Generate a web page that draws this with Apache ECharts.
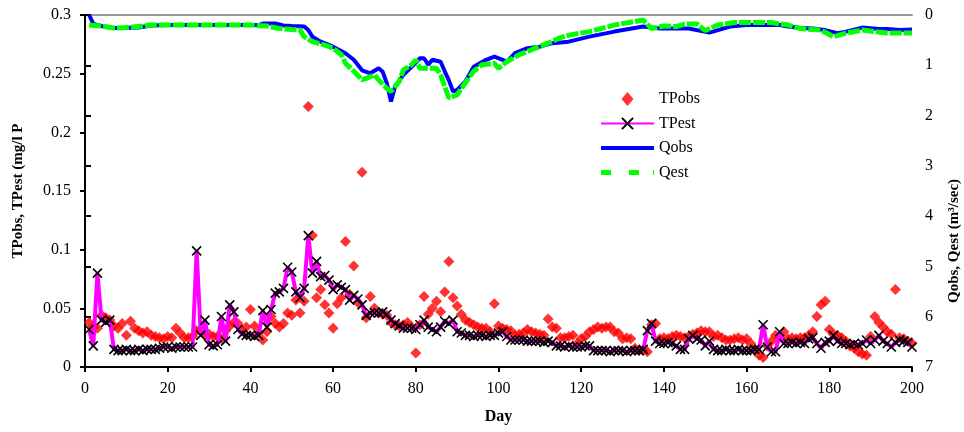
<!DOCTYPE html>
<html>
<head>
<meta charset="utf-8">
<script src="https://cdn.jsdelivr.net/npm/echarts@6/dist/echarts.min.js"></script>
<style>
  html, body { margin: 0; padding: 0; background: #fff; }
  #chart { width: 964px; height: 432px; }
</style>
</head>
<body>
<div id="chart"></div>
<script>
// x: day number, left axis TP (mg/l P), right axis Q (m3/sec, inverted)
const xTicks = [0, 200, 20]
const tpTicks = [0, 0.3, 0.05]
const qTicks = [0, 7, 1]

// TPest, one value per day from day 1
const tpEst = [
  0.032, 0.018, 0.080, 0.040, 0.038, 0.040, 0.015, 0.014, 0.014, 0.015,
  0.014, 0.014, 0.015, 0.014, 0.015, 0.015, 0.015, 0.016, 0.017, 0.017,
  0.016, 0.017, 0.017, 0.017, 0.017, 0.017, 0.099, 0.027, 0.040, 0.019,
  0.018, 0.019, 0.043, 0.022, 0.053, 0.047, 0.032, 0.028, 0.027, 0.027,
  0.026, 0.027, 0.048, 0.034, 0.049, 0.063, 0.064, 0.067, 0.085, 0.081,
  0.064, 0.059, 0.067, 0.112, 0.080, 0.090, 0.077, 0.078, 0.074, 0.066,
  0.070, 0.068, 0.066, 0.057, 0.061, 0.058, 0.053, 0.044, 0.046, 0.046,
  0.046, 0.047, 0.045, 0.040, 0.037, 0.035, 0.033, 0.033, 0.033, 0.032,
  0.036, 0.040, 0.034, 0.032, 0.030, 0.034, 0.039, 0.037, 0.040, 0.030,
  0.029, 0.027, 0.027, 0.026, 0.027, 0.027, 0.026, 0.027, 0.027, 0.029,
  0.030, 0.026, 0.023, 0.023, 0.023, 0.023, 0.022, 0.022, 0.022, 0.022,
  0.021, 0.022, 0.021, 0.018, 0.018, 0.017, 0.018, 0.017, 0.017, 0.017,
  0.018, 0.018, 0.014, 0.014, 0.014, 0.014, 0.013, 0.014, 0.014, 0.014,
  0.013, 0.014, 0.014, 0.014, 0.015, 0.031, 0.037, 0.022, 0.020, 0.020,
  0.021, 0.020, 0.018, 0.015, 0.015, 0.024, 0.027, 0.024, 0.023, 0.018,
  0.022, 0.015, 0.014, 0.014, 0.015, 0.014, 0.014, 0.015, 0.014, 0.014,
  0.014, 0.015, 0.015, 0.036, 0.017, 0.013, 0.013, 0.030, 0.020, 0.020,
  0.021, 0.020, 0.021, 0.020, 0.024, 0.025, 0.020, 0.016, 0.021, 0.022,
  0.027, 0.022, 0.020, 0.020, 0.019, 0.020, 0.019, 0.020, 0.023, 0.020,
  0.023, 0.027, 0.022, 0.020, 0.017, 0.021, 0.023, 0.022, 0.021, 0.017
]

// TPobs, one value per day from day 1
const tpObs = [
  0.038, 0.034, 0.033, 0.044, 0.042, 0.040, 0.035, 0.033, 0.037, 0.027,
  0.039, 0.033, 0.031, 0.029, 0.030, 0.027, 0.026, 0.025, 0.024, 0.026,
  0.025, 0.033, 0.029, 0.025, 0.025, 0.026, 0.031, 0.032, 0.027, 0.028,
  0.026, 0.026, 0.024, 0.031, 0.035, 0.038, 0.037, 0.031, 0.034, 0.049,
  0.035, 0.029, 0.023, 0.030, 0.043, 0.037, 0.034, 0.037, 0.046, 0.044,
  0.057, 0.046, 0.056, 0.222, 0.112, 0.059, 0.066, 0.053, 0.046, 0.033,
  0.054, 0.059, 0.107, 0.062, 0.086, 0.055, 0.166, 0.042, 0.060, 0.050,
  0.046, 0.045, 0.044, 0.038, 0.036, 0.035, 0.036, 0.038, 0.034, 0.012,
  0.036, 0.060, 0.045, 0.050, 0.056, 0.047, 0.064, 0.090, 0.059, 0.052,
  0.045, 0.040, 0.038, 0.036, 0.034, 0.033, 0.033, 0.030, 0.054, 0.035,
  0.033, 0.032, 0.031, 0.027, 0.028, 0.029, 0.032, 0.030, 0.029, 0.028,
  0.027, 0.041, 0.034, 0.033, 0.025, 0.025, 0.026, 0.027, 0.020, 0.024,
  0.026, 0.030, 0.032, 0.034, 0.033, 0.034, 0.034, 0.030, 0.029, 0.024,
  0.025, 0.024, 0.016, 0.014, 0.014, 0.013, 0.036, 0.037, 0.024, 0.025,
  0.024, 0.026, 0.027, 0.026, 0.025, 0.026, 0.028, 0.029, 0.031, 0.030,
  0.030, 0.026, 0.027, 0.025, 0.023, 0.023, 0.024, 0.025, 0.023, 0.024,
  0.020, 0.015, 0.010, 0.008, 0.018, 0.022, 0.027, 0.025, 0.030, 0.024,
  0.025, 0.024, 0.025, 0.025, 0.027, 0.030, 0.043, 0.053, 0.056, 0.032,
  0.028, 0.027, 0.025, 0.022, 0.018, 0.016, 0.013, 0.011, 0.010, 0.026,
  0.043, 0.038, 0.034, 0.030, 0.028, 0.066, 0.025, 0.024, 0.022, 0.020
]

// Qobs readings [day, m3/sec]
const qObs = [
  [1, 0.0], [2, 0.17], [3, 0.2], [5, 0.24], [7, 0.26], [10, 0.26], [13, 0.25],
  [16, 0.21], [20, 0.2], [30, 0.2], [42, 0.2], [43, 0.17], [46, 0.17], [48, 0.21],
  [50, 0.22], [53, 0.23], [54, 0.3], [55, 0.43], [57, 0.53], [60, 0.63], [63, 0.76],
  [65, 0.89], [67, 1.1], [69, 1.16], [71, 1.06], [72, 1.13], [73, 1.36], [74, 1.72],
  [75, 1.42], [77, 1.19], [79, 1.03], [81, 0.86], [82, 0.86], [83, 0.99], [84, 0.89],
  [86, 0.93], [87, 1.12], [88, 1.3], [89, 1.52], [90, 1.49], [92, 1.32], [94, 1.03],
  [97, 0.89], [99, 0.83], [101, 0.89], [102, 0.93], [104, 0.76], [107, 0.66],
  [110, 0.63], [113, 0.56], [117, 0.53], [122, 0.43], [128, 0.33], [135, 0.23],
  [139, 0.27], [146, 0.27], [151, 0.35], [156, 0.23], [160, 0.2], [168, 0.2],
  [170, 0.23], [173, 0.26], [176, 0.27], [179, 0.3], [182, 0.36], [184, 0.33],
  [188, 0.25], [192, 0.28], [194, 0.28], [197, 0.3], [200, 0.29]
]

// Qest readings [day, m3/sec]
const qEst = [
  [1, 0.2], [4, 0.22], [7, 0.26], [10, 0.25], [14, 0.22], [16, 0.2], [40, 0.2],
  [44, 0.22], [47, 0.27], [50, 0.29], [52, 0.3], [53, 0.43], [55, 0.53], [58, 0.6],
  [60, 0.66], [62, 0.79], [63, 0.96], [65, 1.12], [67, 1.29], [68, 1.26], [70, 1.19],
  [71, 1.29], [73, 1.46], [74, 1.52], [76, 1.32], [77, 1.09], [79, 0.99], [80, 0.89],
  [81, 1.06], [85, 1.06], [86, 1.19], [87, 1.42], [88, 1.65], [90, 1.59], [91, 1.46],
  [94, 1.12], [96, 0.99], [99, 0.96], [100, 1.06], [102, 0.93], [105, 0.79],
  [108, 0.69], [112, 0.56], [115, 0.45], [117, 0.4], [122, 0.33], [128, 0.2],
  [135, 0.1], [137, 0.27], [140, 0.22], [143, 0.23], [145, 0.18], [148, 0.18],
  [150, 0.31], [153, 0.2], [157, 0.15], [166, 0.15], [170, 0.2], [173, 0.27],
  [178, 0.3], [181, 0.43], [184, 0.36], [188, 0.3], [191, 0.33], [194, 0.36], [200, 0.36]
]

const font = 'Liberation Serif'
const cross = 'path://M0,0L10,10M10,0L0,10'

const chart = echarts.init(document.getElementById('chart'), null, { renderer: 'canvas' })
chart.setOption({
  animation: false,
  backgroundColor: '#fff',
  textStyle: { fontFamily: font },
  grid: { left: 85, right: 52, top: 15, bottom: 65, outerBoundsMode: 'none' },
  legend: {
    orient: 'vertical',
    left: 595,
    top: 86,
    itemWidth: 53,
    itemHeight: 14,
    itemGap: 8.5,
    textStyle: { fontFamily: font, fontSize: 16, color: '#000' },
    data: [
      { name: 'TPobs', icon: 'path://M6,0L12,7L6,14L0,7Z' },
      'TPest',
      { name: 'Qobs', icon: 'path://M0,0H53V4H0Z' },
      { name: 'Qest', icon: 'path://M0,0H10V5H0Z M28,0H38V5H28Z M52,0H53V5H52Z' },
    ],
  },
  xAxis: [
    {
      type: 'value',
      min: xTicks[0],
      max: xTicks[1],
      interval: xTicks[2],
      name: 'Day',
      nameLocation: 'middle',
      nameGap: 42,
      nameTextStyle: { fontFamily: font, fontSize: 16, fontWeight: 'bold', color: '#000' },
      axisLine: { lineStyle: { color: '#000', width: 2 } },
      axisTick: { length: 5, lineStyle: { color: '#000', width: 2 } },
      axisLabel: { color: '#000', fontSize: 16, margin: 14, fontFamily: font },
      splitLine: { show: false },
    },
    {
      type: 'value',
      position: 'top',
      min: xTicks[0],
      max: xTicks[1],
      axisLine: { onZero: false, lineStyle: { color: '#999', width: 2 } },
      axisTick: { show: false },
      axisLabel: { show: false },
      splitLine: { show: false },
    },
  ],
  yAxis: [
    {
      type: 'value',
      min: tpTicks[0],
      max: tpTicks[1],
      interval: tpTicks[2],
      name: 'TPobs, TPest (mg/l P',
      nameLocation: 'middle',
      nameGap: 59,
      nameTextStyle: { fontFamily: font, fontSize: 15, fontWeight: 'bold', color: '#000' },
      axisLine: { show: true, lineStyle: { color: '#000', width: 2 } },
      axisTick: { show: true, length: 5, lineStyle: { color: '#000', width: 2 } },
      axisLabel: { color: '#000', fontSize: 16, margin: 14, fontFamily: font },
      splitLine: { show: false },
    },
    {
      type: 'value',
      position: 'right',
      inverse: true,
      min: qTicks[0],
      max: qTicks[1],
      interval: qTicks[2],
      name: 'Qobs, Qest (m³/sec)',
      nameLocation: 'middle',
      nameGap: 35,
      nameRotate: 90,
      nameTextStyle: { fontFamily: font, fontSize: 15, fontWeight: 'bold', color: '#000', padding: [0, 100, 0, 0] },
      axisLine: { show: true, lineStyle: { color: '#000', width: 2 } },
      axisTick: { show: true, length: 6, lineStyle: { color: '#000', width: 2 } },
      axisLabel: { color: '#000', fontSize: 16, margin: 13, fontFamily: font },
      splitLine: { show: false },
    },
  ],
  series: [
    {
      name: 'TPobs',
      type: 'scatter',
      yAxisIndex: 0,
      symbol: 'diamond',
      symbolSize: 11,
      itemStyle: { color: '#ff0000' },
      z: 2,
      data: tpObs.map((v, i) => [i + 1, v]),
    },
    {
      name: 'TPest',
      type: 'line',
      yAxisIndex: 0,
      symbol: cross,
      symbolSize: 9,
      showAllSymbol: true,
      lineStyle: { color: '#ff00ff', width: 4 },
      itemStyle: { color: '#000', borderColor: '#000', borderWidth: 1.6 },
      z: 3,
      data: tpEst.map((v, i) => [i + 1, v]),
    },
    {
      name: 'Qobs',
      type: 'line',
      yAxisIndex: 1,
      showSymbol: false,
      symbol: 'none',
      lineStyle: { color: '#0000ff', width: 4 },
      itemStyle: { color: '#0000ff' },
      data: qObs,
    },
    {
      name: 'Qest',
      type: 'line',
      yAxisIndex: 1,
      showSymbol: false,
      symbol: 'none',
      lineStyle: { color: '#00ff00', width: 5, type: [12, 2] },
      itemStyle: { color: '#00ff00' },
      data: qEst,
    },
  ],
})
</script>
</body>
</html>
